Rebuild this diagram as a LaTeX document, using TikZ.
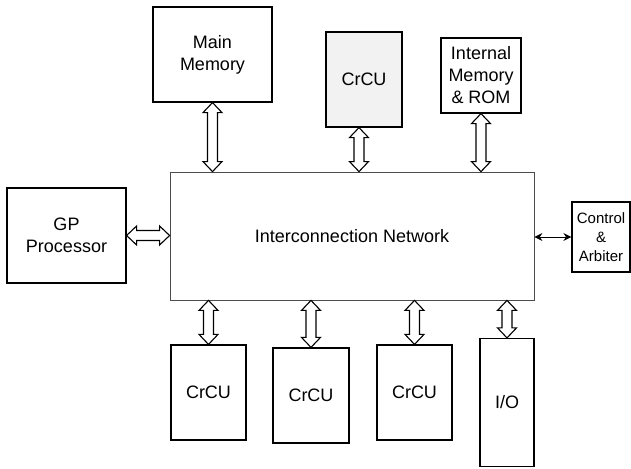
\documentclass[tikz,border=0pt]{standalone}
\usepackage{fontspec}
\setmainfont{Liberation Sans}
\usetikzlibrary{arrows.meta,calc}

\tikzset{
  unit/.style={draw, line width=1.2pt, align=center, inner sep=0pt,
    font=\fontsize{18}{22}\selectfont},
  % hollow two-headed bus arrow between two points
  bus/.style={draw, line width=1.1pt, fill=white, line join=miter,
    to path={
      -- ($(\tikztostart)!10pt!(\tikztotarget)!9.5pt!90:(\tikztotarget)$)
      -- ($(\tikztostart)!10pt!(\tikztotarget)!5pt!90:(\tikztotarget)$)
      -- ($(\tikztotarget)!10pt!(\tikztostart)!5pt!-90:(\tikztostart)$)
      -- ($(\tikztotarget)!10pt!(\tikztostart)!9.5pt!-90:(\tikztostart)$)
      -- (\tikztotarget)
      -- ($(\tikztotarget)!10pt!(\tikztostart)!9.5pt!90:(\tikztostart)$)
      -- ($(\tikztotarget)!10pt!(\tikztostart)!5pt!90:(\tikztostart)$)
      -- ($(\tikztostart)!10pt!(\tikztotarget)!5pt!-90:(\tikztotarget)$)
      -- ($(\tikztostart)!10pt!(\tikztotarget)!9.5pt!-90:(\tikztotarget)$)
      -- cycle}},
  link/.style={line width=1pt,
    {Stealth[length=8pt,width=8pt]}-{Stealth[length=8pt,width=8pt]}}
}

\begin{document}
\begin{tikzpicture}[x=1pt,y=-1pt]
  \useasboundingbox (0,0) rectangle (631,468);
  % network in the middle
  \node[unit, draw=black!70, line width=0.8pt, minimum width=364pt,
    minimum height=128pt] (net) at (352,236) {Interconnection Network};
  % top row
  \node[unit, minimum width=119pt, minimum height=95pt] (mainmem)
    at (212.5,54.5) {Main\\Memory};
  \node[unit, fill=black!5, minimum width=76pt, minimum height=95pt] (topcu)
    at (364,79.5) {CrCU};
  \node[unit, minimum width=80pt, minimum height=75pt] (intmem)
    at (481,75.5) {Internal\\Memory\\\& ROM};
  % sides
  \node[unit, minimum width=119pt, minimum height=95pt] (gp)
    at (66.5,235.5) {GP\\Processor};
  \node[unit, minimum width=58pt, minimum height=70pt,
    font=\fontsize{15}{19}\selectfont] (ctrl) at (601,237) {Control\\\&\\Arbiter};
  % bottom row
  \node[unit, minimum width=75pt, minimum height=95pt] (cu1)
    at (208.5,392.5) {CrCU};
  \node[unit, minimum width=76pt, minimum height=95pt] (cu2)
    at (311,395.5) {CrCU};
  \node[unit, minimum width=75pt, minimum height=95pt] (cu3)
    at (414.5,392.5) {CrCU};
  \node[unit, minimum width=54pt, minimum height=128pt] (io)
    at (507,402.5) {I/O};

  \coordinate (topcu bus) at ($(topcu.south)+(-5,0)$);
  \draw[bus] (mainmem.south) to (mainmem.south |- net.north);
  \draw[bus] (topcu bus) to (topcu bus |- net.north);
  \draw[bus] (intmem.south) to (intmem.south |- net.north);
  \draw[bus] (gp.east) to (gp.east -| net.west);
  \foreach \u in {cu1,cu2,cu3,io}
    \draw[bus] (\u.north |- net.south) to (\u.north);
  \draw[link] (ctrl.west -| net.east) -- (ctrl.west);
\end{tikzpicture}
\end{document}
